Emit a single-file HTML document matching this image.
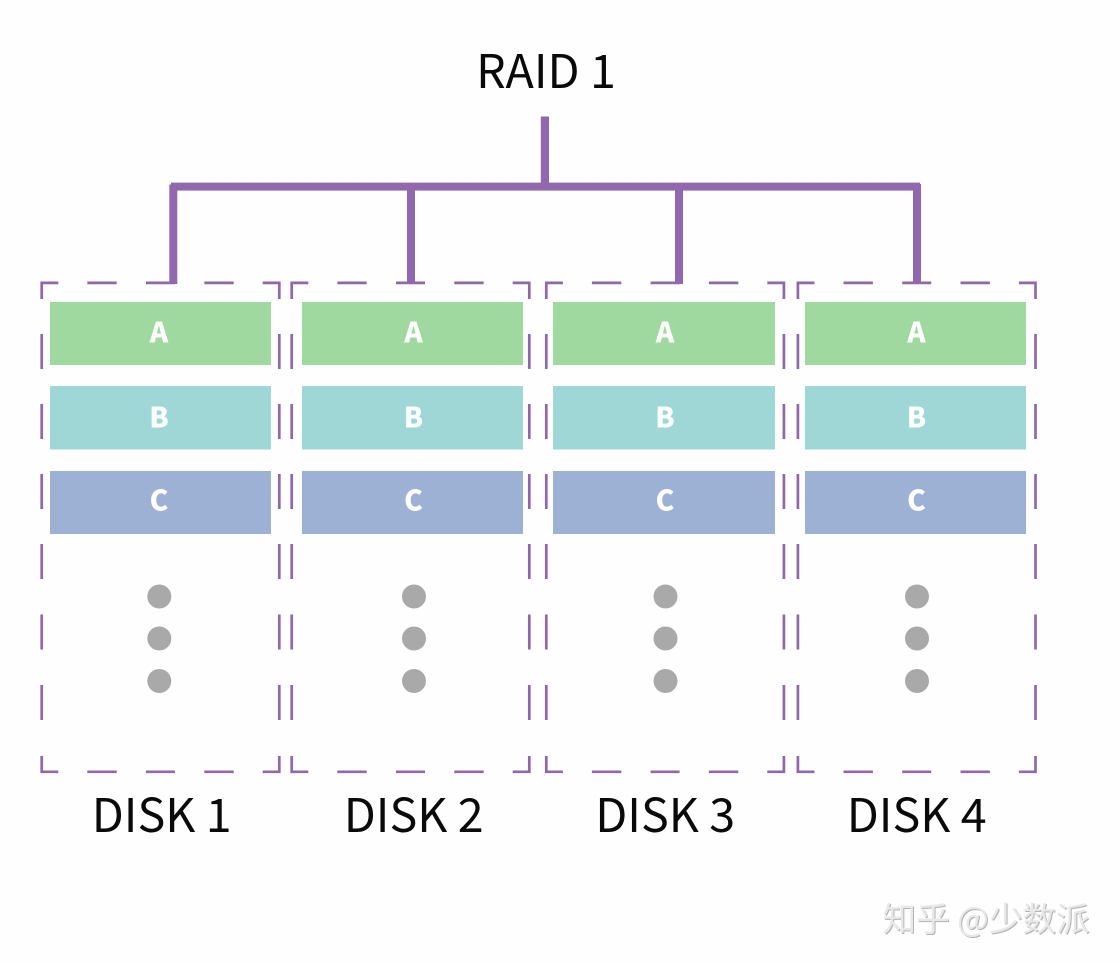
<!DOCTYPE html>
<html>
<head>
<meta charset="utf-8">
<style>
html,body{margin:0;padding:0;background:#fefefe;}
body{width:1120px;height:963px;overflow:hidden;position:relative;}
svg{position:absolute;left:0;top:0;}
text{font-family:"Noto Sans CJK SC","Liberation Sans",sans-serif;}
.t{font-size:46.6px;fill:#0a0a0a;text-anchor:middle;font-weight:400;}
.l{font-size:28px;fill:#fdfdfd;text-anchor:middle;font-weight:900;}
.wm{position:absolute;left:882.500px;top:892px;font-family:"Noto Sans CJK SC","Liberation Sans",sans-serif;font-size:33.600px;line-height:50px;color:#e8e8e8;white-space:nowrap;text-shadow:1px 1px 0 #b4b4b4;letter-spacing:0;}
</style>
</head>
<body>
<svg width="1120" height="963" viewBox="0 0 1120 963" xmlns="http://www.w3.org/2000/svg">
<defs>
<g id="frame" fill="none" stroke="#8f68ab" stroke-width="2.700">
<path d="M0 17.500V1.350H16.600M45.600 1.350H75M104.300 1.350H133.300M162.600 1.350H192M221 1.350H237.600V17.500"/>
<path d="M0 52.500V87.500M0 122.500V157.500M0 192.500V227.500M0 262.500V297.500M0 333V368M0 403.500V438.500"/>
<path d="M237.600 52.500V87.500M237.600 122.500V157.500M237.600 192.500V227.500M237.600 262.500V297.500M237.600 333V368M237.600 403.500V438.500"/>
<path d="M0 474.500V490.300H16.600M45.600 490.300H75M104.300 490.300H133.300M162.600 490.300H192M221 490.300H237.600V474.500"/>
</g>
</defs>

<use href="#frame" x="41.700" y="281.500"/>
<use href="#frame" x="291.700" y="281.500"/>
<use href="#frame" x="546.300" y="281.500"/>
<use href="#frame" x="797.900" y="281.500"/>

<g fill="#9168ae">
<rect x="540.800" y="116.500" width="8.200" height="68"/>
<rect x="171" y="182.600" width="749" height="8"/>
<rect x="169.300" y="184.500" width="8" height="99.500"/>
<rect x="407" y="186" width="8" height="98"/>
<rect x="675" y="186" width="8" height="98"/>
<rect x="913" y="184" width="8" height="100"/>
</g>

<g fill="#9fd9a0">
<rect x="50" y="302" width="221" height="63"/>
<rect x="302" y="302" width="221" height="63"/>
<rect x="553" y="302" width="222" height="63"/>
<rect x="805" y="302" width="221" height="63"/>
</g>
<g fill="#9fd7d7">
<rect x="50" y="386" width="221" height="63.500"/>
<rect x="302" y="386" width="221" height="63.500"/>
<rect x="553" y="386" width="222" height="63.500"/>
<rect x="805" y="386" width="221" height="63.500"/>
</g>
<g fill="#9db1d5">
<rect x="50" y="471" width="221" height="63"/>
<rect x="302" y="471" width="221" height="63"/>
<rect x="553" y="471" width="222" height="63"/>
<rect x="805" y="471" width="221" height="63"/>
</g>

<g>
<text class="l" x="159" y="342.500">A</text><text class="l" x="413.500" y="342.500">A</text><text class="l" x="665" y="342.500">A</text><text class="l" x="916.500" y="342.500">A</text>
<text class="l" x="159" y="427.500">B</text><text class="l" x="413.500" y="427.500">B</text><text class="l" x="665" y="427.500">B</text><text class="l" x="916.500" y="427.500">B</text>
<text class="l" x="159" y="510.500">C</text><text class="l" x="413.500" y="510.500">C</text><text class="l" x="665" y="510.500">C</text><text class="l" x="916.500" y="510.500">C</text>
</g>

<g fill="#a9a9a9">
<circle cx="159.300" cy="596.500" r="12"/><circle cx="159.300" cy="638.500" r="12"/><circle cx="159.300" cy="681" r="12"/>
<circle cx="414" cy="596.500" r="12"/><circle cx="414" cy="638.500" r="12"/><circle cx="414" cy="681" r="12"/>
<circle cx="665.500" cy="596.500" r="12"/><circle cx="665.500" cy="638.500" r="12"/><circle cx="665.500" cy="681" r="12"/>
<circle cx="917" cy="596.500" r="12"/><circle cx="917" cy="638.500" r="12"/><circle cx="917" cy="681" r="12"/>
</g>

<text class="t" x="546" y="88">RAID 1</text>
<text class="t" x="161.700" y="832">DISK 1</text>
<text class="t" x="413.700" y="832">DISK 2</text>
<text class="t" x="665.200" y="832">DISK 3</text>
<text class="t" x="916.700" y="832">DISK 4</text>
</svg>
<div class="wm">知乎 @少数派</div>
</body>
</html>
